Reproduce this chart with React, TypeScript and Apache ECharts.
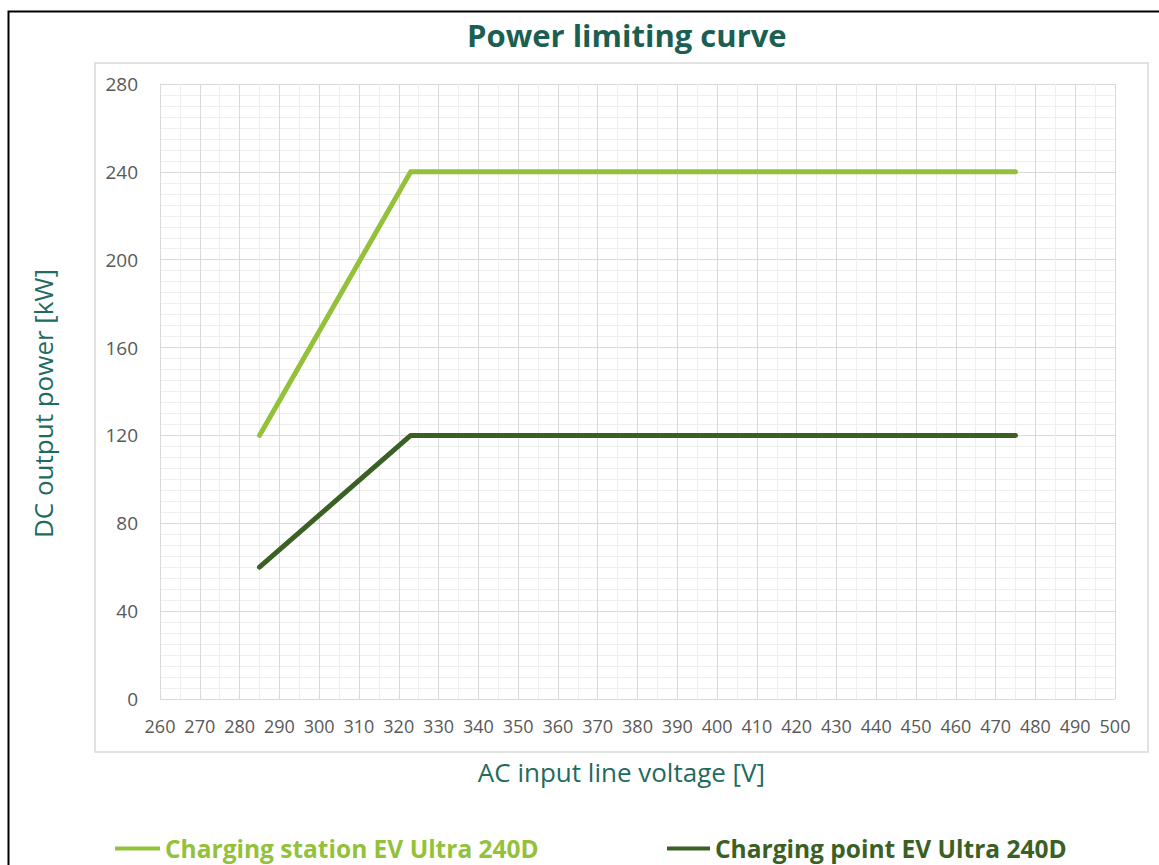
import React, { useEffect, useRef } from "react";
import * as echarts from "echarts";

const seriesNames = ["Charging station EV Ultra 240D", "Charging point EV Ultra 240D"];
const voltages = [285, 323, 475];
const stationPower = [120, 240, 240];
const pointPower = [60, 120, 120];

const FONT = "'Open Sans', 'Noto Sans', sans-serif";

export default function App() {
  const ref = useRef<HTMLDivElement>(null);
  useEffect(() => {
    if (!ref.current) return;
    const chart = echarts.init(ref.current, undefined, { renderer: "svg" });
    const pair = (ys: number[]) => voltages.map((v, i) => [v, ys[i]]);
    chart.setOption({
      animation: false,
      backgroundColor: "#ffffff",
      title: {
        text: "Power limiting curve",
        left: 462,
        top: 14,
        textStyle: { fontFamily: FONT, fontSize: 31, fontWeight: "bold", color: "#1b5e52" },
      },
      grid: { left: 160, right: 44, top: 84, bottom: 166, containLabel: false },
      legend: [
        {
          data: [{ name: seriesNames[0], textStyle: { color: "#93c13a" } }],
          left: 110,
          top: 831,
          icon: "rect",
          itemWidth: 45,
          itemHeight: 4,
          textStyle: { fontFamily: FONT, fontSize: 24.5, fontWeight: "bold" },
        },
        {
          data: [{ name: seriesNames[1], textStyle: { color: "#3b6024" } }],
          left: 662,
          top: 831,
          icon: "rect",
          itemWidth: 43,
          itemHeight: 4,
          textStyle: { fontFamily: FONT, fontSize: 24.5, fontWeight: "bold" },
        },
      ],
      xAxis: {
        type: "value",
        min: 260,
        max: 500,
        interval: 10,
        name: "AC input line voltage [V]",
        nameLocation: "middle",
        nameGap: 60,
        nameTextStyle: { fontFamily: FONT, fontSize: 26, color: "#1f6b5f", padding: [0, 32, 0, 0] },
        axisLine: { show: true, lineStyle: { color: "#d9d9d9" } },
        axisTick: { show: false },
        axisLabel: { fontFamily: FONT, fontSize: 18, color: "#595959", margin: 18 },
        splitLine: { show: true, lineStyle: { color: "#d9d9d9", width: 1 } },
        minorTick: { show: false, splitNumber: 2 },
        minorSplitLine: { show: true, lineStyle: { color: "#efefef", width: 1 } },
      },
      yAxis: {
        type: "value",
        min: 0,
        max: 280,
        interval: 40,
        name: "DC output power [kW]",
        nameLocation: "middle",
        nameGap: 104,
        nameTextStyle: { fontFamily: FONT, fontSize: 26, color: "#1f6b5f", padding: [0, 24, 0, 0] },
        axisLine: { show: true, lineStyle: { color: "#d9d9d9" } },
        axisTick: { show: false },
        axisLabel: { fontFamily: FONT, fontSize: 19, color: "#595959", margin: 22 },
        splitLine: { show: true, lineStyle: { color: "#d9d9d9", width: 1 } },
        minorTick: { show: false, splitNumber: 8 },
        minorSplitLine: { show: true, lineStyle: { color: "#efefef", width: 1 } },
      },
      series: [
        {
          name: seriesNames[0],
          type: "line",
          data: pair(stationPower),
          showSymbol: false,
          symbol: "none",
          lineStyle: { color: "#93c13a", width: 5, cap: "round", join: "round" },
          itemStyle: { color: "#93c13a" },
        },
        {
          name: seriesNames[1],
          type: "line",
          data: pair(pointPower),
          showSymbol: false,
          symbol: "none",
          lineStyle: { color: "#3b6024", width: 5, cap: "round", join: "round" },
          itemStyle: { color: "#3b6024" },
        },
      ],
      graphic: [
        {
          type: "rect",
          shape: { x: 95, y: 63, width: 1053, height: 689 },
          style: { fill: "none", stroke: "#d9d9d9", lineWidth: 1.5 },
          silent: true,
          z: -1,
        },
        {
          type: "rect",
          shape: { x: 8.5, y: 11.5, width: 1170, height: 900 },
          style: { fill: "none", stroke: "#000000", lineWidth: 2 },
          silent: true,
        },
      ],
    });
    return () => chart.dispose();
  }, []);
  return (
    <div style={{ position: "absolute", left: 0, top: 0 }}>
      <div ref={ref} style={{ width: 1159, height: 865 }} />
    </div>
  );
}
